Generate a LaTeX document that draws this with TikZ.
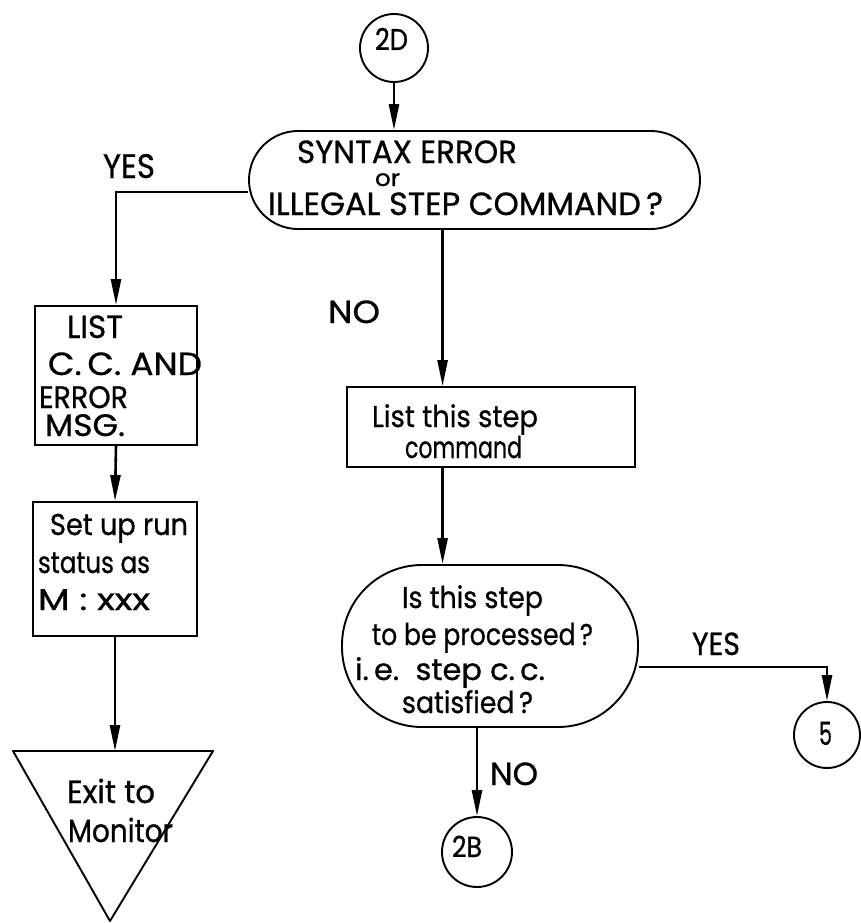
\documentclass[tikz,border=0pt]{standalone}
\usepackage{fontspec}
\setmainfont{Poppins}[FakeBold=0.8]
\usepackage{graphicx}
\usetikzlibrary{arrows.meta,calc}
\newsavebox\fitbox
\newcommand\fitw[2]{\sbox\fitbox{#2}\pgfmathsetmacro\fitfac{#1/\the\wd\fitbox}\scalebox{\fitfac}[1]{\usebox\fitbox}}
\begin{document}
\begin{tikzpicture}[x=1pt,y=-1pt,
  shp/.style={draw=black, line width=1.9pt, inner sep=0pt, fill=none},
  arr/.style={draw=black, line width=2.6pt, -{Triangle[length=26pt,width=10pt]}},
  txt/.style={anchor=base west, inner sep=0pt, outer sep=0pt, font=\fontsize{#1}{#1}\selectfont}]
\useasboundingbox (0,0) rectangle (861,923);
\fill[white] (0,0) rectangle (861,923);
% shapes
\node[shp, circle, minimum size=68pt] (c2d) at (394,48) {};
\node[shp, rectangle, rounded corners=49pt, minimum width=451pt, minimum height=98pt] (term) at (474.5,180) {};
\node[shp, rectangle, minimum width=162pt, minimum height=139pt] (listbox) at (116,375.5) {};
\node[shp, rectangle, minimum width=164pt, minimum height=134pt] (setbox) at (115,569) {};
\node[shp, rectangle, minimum width=288pt, minimum height=80pt] (listcmd) at (491,427) {};
\node[shp, rectangle, rounded corners=80pt, minimum width=296pt, minimum height=162pt] (decision) at (490,646) {};
\node[shp, circle, minimum size=70pt] (c2b) at (477,852) {};
\node[shp, circle, minimum size=66pt] (c5) at (827,735) {};
\draw[line width=1.9pt, line join=round] (13,751) -- (213,751) -- (110,921) -- cycle;
\coordinate (exittop) at (115,751);
% connectors
\coordinate (a) at ($(listcmd.north west)!0.333!(listcmd.north east)$);
\draw[arr] (c2d.south) -- (c2d.south |- term.north);
\draw[arr] ([yshift=-12pt]term.west) -| (listbox.north);
\draw[arr] (term.south -| a) -- (a);
\draw[arr] (listcmd.south -| a) -- (decision.north -| a);
\draw[arr] (decision.south -| c2b.north) -- (c2b.north);
\draw[arr] ([yshift=-21pt]decision.east) -| (c5.north);
\draw[arr] (listbox.south) -- (setbox.north);
\draw[arr] (setbox.south) -- (exittop);
% texts
\node[txt=30] (t2d) at (375,50) {\fitw{33}{2D}};
\node[txt=32] (tsyn) at (297,163) {\fitw{220}{SYNTAX ERROR}};
\node[txt=23] (tor) at (375,186) {\fitw{25}{or}};
\node[txt=32] (till) at (268,215) {\fitw{395}{ILLEGAL STEP COMMAND\,?}};
\node[txt=34] (tyes1) at (103,178) {\fitw{52}{YES}};
\node[txt=32] (tno1) at (328,323) {\fitw{52}{NO}};
\node[txt=32] (tlist) at (67,338) {\fitw{56}{LIST}};
\node[txt=32] (tcc) at (48,375) {\fitw{154}{C.\,C. AND}};
\node[txt=31] (terr) at (39,408) {\fitw{89}{ERROR}};
\node[txt=31] (tmsg) at (45,436) {\fitw{80}{MSG.}};
\node[txt=30] (tset) at (50,535) {\fitw{138}{Set up run}};
\node[txt=30] (tstat) at (38,573) {\fitw{112}{status as}};
\node[txt=30] (tm) at (38,610) {\fitw{112}{M : xxx}};
\node[txt=32] (texit) at (67,803) {\fitw{88}{Exit to}};
\node[txt=32] (tmon) at (68,842) {\fitw{105}{Monitor}};
\node[txt=30] (tlst) at (372,427) {\fitw{166}{List this step}};
\node[txt=30] (tcmd) at (405,458) {\fitw{117}{command}};
\node[txt=30] (tis) at (402,608) {\fitw{141}{Is this step}};
\node[txt=30] (tproc) at (372,645) {\fitw{221}{to be processed\,?}};
\node[txt=30] (tie) at (355,680) {\fitw{190}{i.\,e.\ \ step c.\,c.}};
\node[txt=30] (tsat) at (402,713) {\fitw{131}{satisfied\,?}};
\node[txt=32] (tno2) at (490,785) {\fitw{48}{NO}};
\node[txt=29] (t2b) at (452,857) {\fitw{30}{2B}};
\node[txt=32] (tyes2) at (692,655) {\fitw{48}{YES}};
\node[txt=32] (t5) at (819,745) {\fitw{13}{5}};
\end{tikzpicture}
\end{document}
